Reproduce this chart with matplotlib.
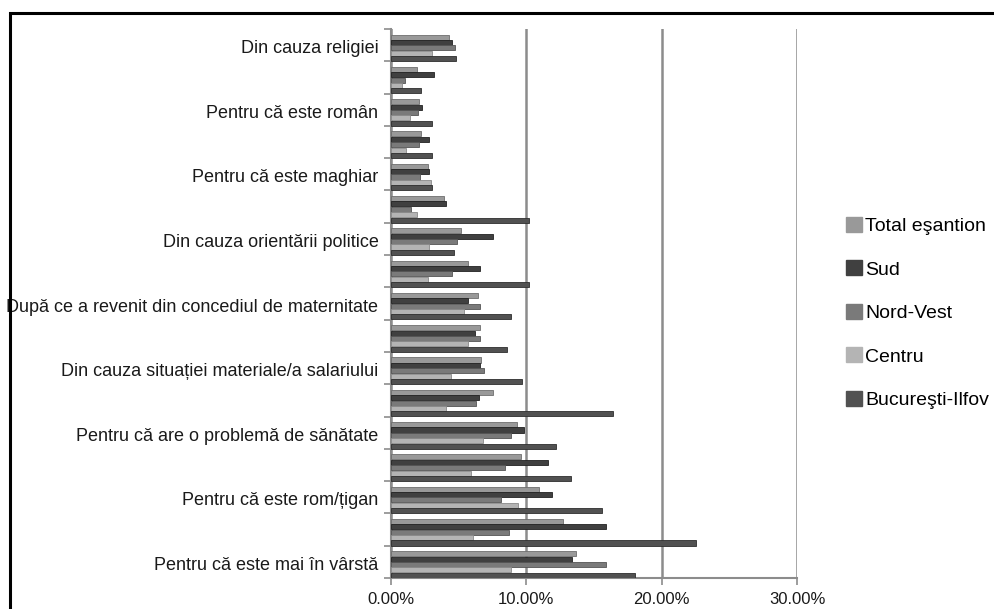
import matplotlib
matplotlib.use('Agg')
import matplotlib.pyplot as plt
from matplotlib.patches import Patch, Rectangle
from matplotlib.ticker import FuncFormatter
import numpy as np

plt.rcParams['font.family'] = ['Liberation Sans', 'DejaVu Sans']

# Groups from top to bottom; only every other group carries a label
categories = ['Din cauza religiei', '',
              'Pentru că este român', '',
              'Pentru că este maghiar', '',
              'Din cauza orientării politice', '',
              'După ce a revenit din concediul de maternitate', '',
              'Din cauza situației materiale/a salariului', '',
              'Pentru că are o problemă de sănătate', '',
              'Pentru că este rom/țigan', '',
              'Pentru că este mai în vârstă']

series_names = ['Total eşantion', 'Sud', 'Nord-Vest', 'Centru', 'Bucureşti-Ilfov']

# Percentages per region, same order as categories
total = [4.3, 1.9, 2.1, 2.25, 2.7, 3.9, 5.2, 5.7, 6.45, 6.6, 6.65, 7.55, 9.3, 9.6, 10.9, 12.7, 13.7]
sud = [4.5, 3.2, 2.3, 2.8, 2.8, 4.1, 7.5, 6.6, 5.7, 6.2, 6.6, 6.5, 9.8, 11.6, 11.9, 15.9, 13.35]
nord_vest = [4.7, 1.05, 2.0, 2.1, 2.15, 1.5, 4.9, 4.5, 6.6, 6.6, 6.85, 6.3, 8.9, 8.4, 8.1, 8.75, 15.85]
centru = [3.0, 0.8, 1.4, 1.1, 2.95, 1.9, 2.8, 2.7, 5.4, 5.7, 4.45, 4.1, 6.8, 5.9, 9.35, 6.05, 8.85]
buc_ilfov = [4.8, 2.25, 3.05, 3.05, 3.05, 10.2, 4.65, 10.2, 8.9, 8.6, 9.7, 16.4, 12.2, 13.3, 15.6, 22.5, 18.0]

series = [total, sud, nord_vest, centru, buc_ilfov]
colors = ['#999999', '#404040', '#7a7a7a', '#b4b4b4', '#515151']
edges = ['#6e6e6e', '#222222', '#555555', '#8a8a8a', '#2e2e2e']

x_ticks = [0, 10, 20, 30]

fig = plt.figure(figsize=(9.94, 6.09), dpi=100)
ax = fig.add_axes([391/994, 1-578/609, (797-391)/994, (578-29)/609])

n = len(categories)
slots = 6  # first slot of each group is left empty
h = 1.0/slots
grp = np.arange(n)
for k, vals in enumerate(series):
    ypos = grp + (k+1.5)*h
    ax.barh(ypos, vals, height=h*0.94, color=colors[k],
            edgecolor=edges[k], linewidth=0.6, zorder=3)

ax.set_ylim(n, 0)
ax.set_xlim(0, 30)

# group boundaries as major ticks, labels at group centres
ax.set_yticks(np.arange(n+1))
ax.set_yticklabels([])
ax.set_yticks(grp + 0.55, minor=True)
ax.set_yticklabels(categories, minor=True, fontsize=13, color='#1a1a1a')
ax.tick_params(axis='y', which='minor', length=0, pad=9)
ax.tick_params(axis='y', which='major', length=5, width=1.2, color='#8c8c8c')

ax.set_xticks(x_ticks)
ax.xaxis.set_major_formatter(FuncFormatter(lambda v, p: '%.2f%%' % v))
ax.tick_params(axis='x', length=5, width=1.2, color='#8c8c8c',
               labelsize=12, labelcolor='#1a1a1a', pad=5)

ax.xaxis.grid(True, color='#8c8c8c', linewidth=1.8, zorder=1)
ax.set_axisbelow(True)
for s in ['top', 'right']:
    ax.spines[s].set_visible(False)
for s in ['left', 'bottom']:
    ax.spines[s].set_color('#8c8c8c')
    ax.spines[s].set_linewidth(1.5)

handles = [Patch(facecolor=c, edgecolor=c) for c in colors]
fig.legend(handles, series_names, loc='center left',
           bbox_to_anchor=(846/994, 1-313/609), bbox_transform=fig.transFigure,
           frameon=False, fontsize=14, handlelength=0.8, handleheight=0.8,
           handletextpad=0.2, labelspacing=1.3, borderpad=0, borderaxespad=0)

# outer frame around the chart
fig.patches.append(Rectangle((10/994, -0.1), 1.0, 1.1-13/609, transform=fig.transFigure,
                             fill=False, edgecolor='black', linewidth=2.2))

fig.savefig('out.png', dpi=100)
